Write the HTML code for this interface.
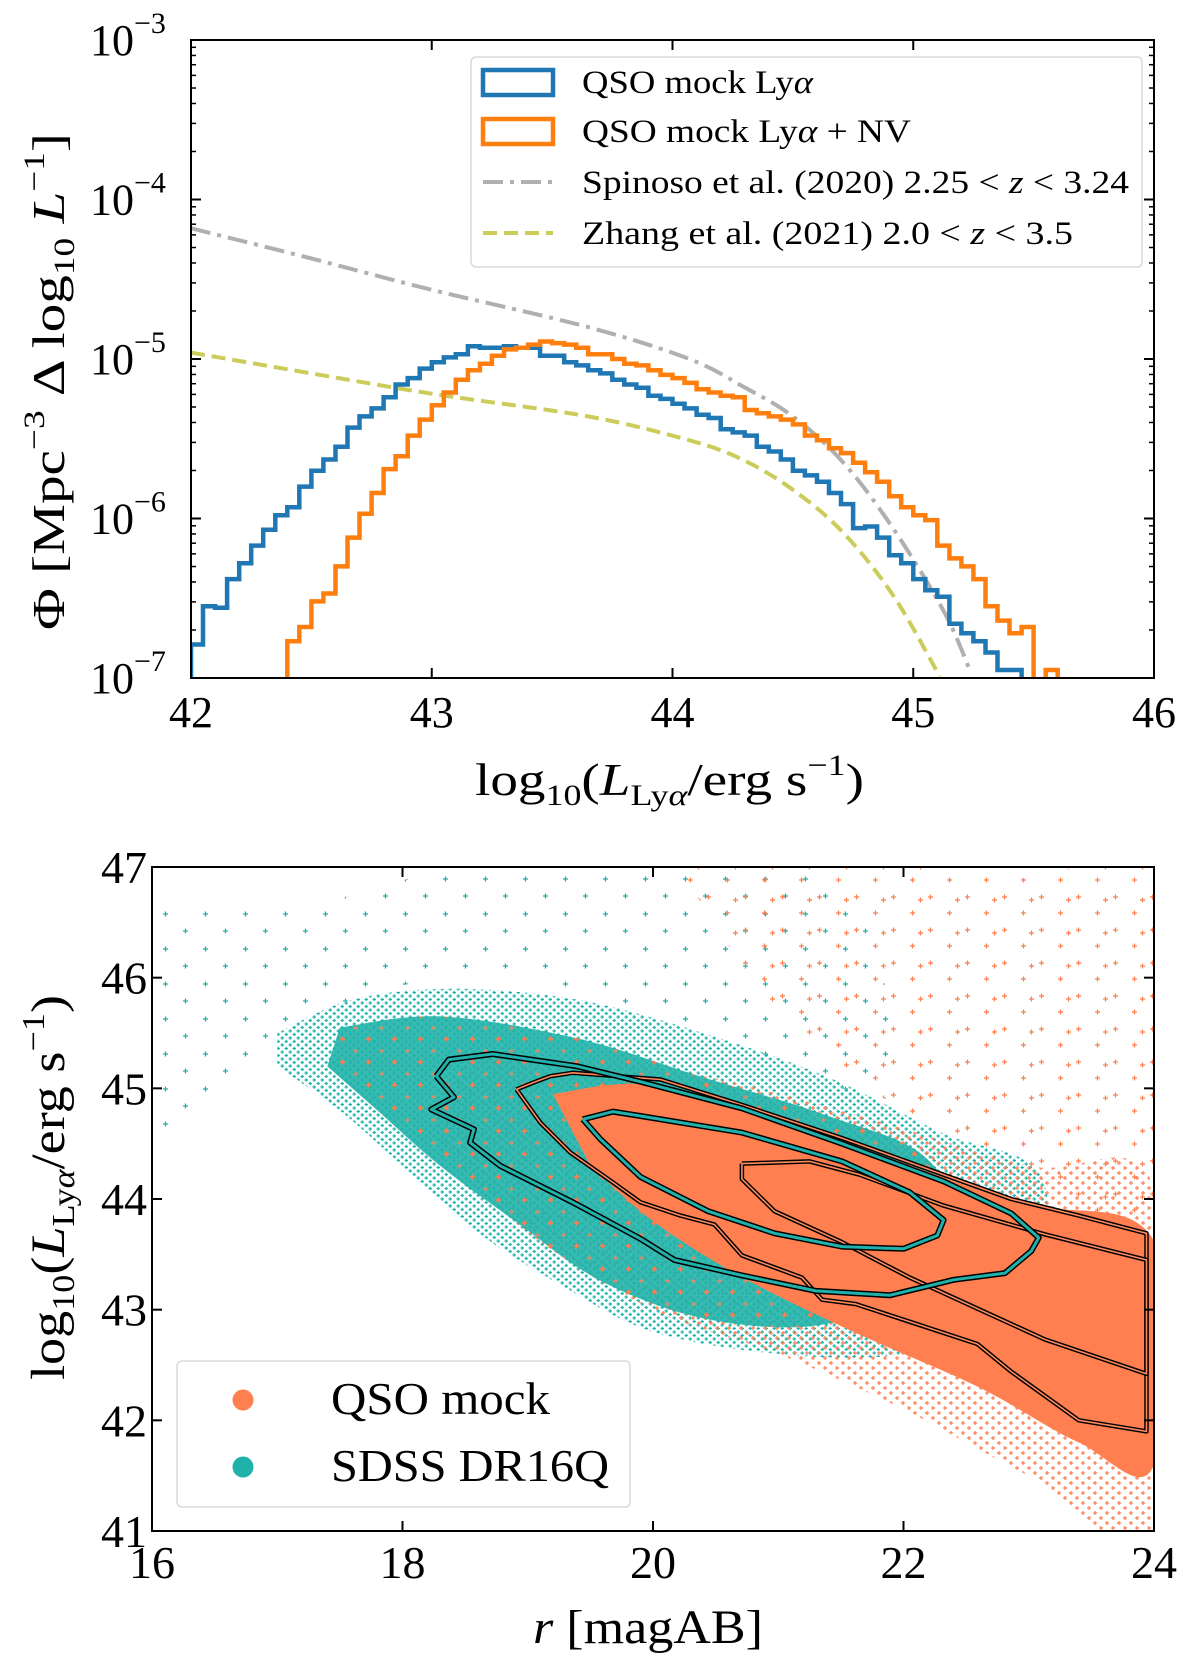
<!DOCTYPE html>
<html><head><meta charset="utf-8"><style>
html,body{margin:0;padding:0;background:#fff;}
svg{display:block;font-family:"Liberation Serif","DejaVu Serif",serif;}
</style></head><body>
<svg id="fig" width="1200" height="1677" viewBox="0 0 1200 1677" xmlns="http://www.w3.org/2000/svg">
<defs>
<pattern id="tealSpeck" width="8" height="7" patternUnits="userSpaceOnUse">
<path d="M0.5 2h3.5M2.2 0.3v3.5M4.5 5.5h3.5M6.2 3.8v3.2" stroke="#20b2aa" stroke-width="1.2"/>
</pattern>
<pattern id="orangeSpeck" width="12" height="10" patternUnits="userSpaceOnUse">
<path d="M1 3h4M3 1v4M7 8h4M9 6v4" stroke="#ff7f50" stroke-width="1.2"/>
</pattern>
<pattern id="orangeOnTeal" width="26" height="23" patternUnits="userSpaceOnUse">
<path d="M2 4h5M4.5 1.5v5M15 16h5M17.5 13.5v5" stroke="#ff7f50" stroke-width="1.4"/>
</pattern>
<pattern id="tealSparse" width="40" height="35" patternUnits="userSpaceOnUse">
<path d="M3 4h5M5.5 1.5v5M23 21h5M25.5 18.5v5" stroke="#20b2aa" stroke-width="1.3"/>
</pattern>
<pattern id="orangeSparse" width="37" height="33" patternUnits="userSpaceOnUse">
<path d="M3 6h5M5.5 3.5v5M22 22h5M24.5 19.5v5M30 9h5M32.5 6.5v5" stroke="#ff7f50" stroke-width="1.3"/>
</pattern>
<clipPath id="clipTop"><rect x="191" y="40" width="963" height="638"/></clipPath>
<clipPath id="clipBot"><rect x="152" y="867" width="1002" height="664"/></clipPath>
</defs>
<g id="top"></g>
<g id="bot"></g>
</svg>
<script>
// ---------- Top panel data ----------
const binWidth = 0.05;
const blueStart = 42.00;
const blueLogPhi = [-6.79,-6.55,-6.56,-6.38,-6.28,-6.17,-6.07,-5.98,-5.93,-5.80,-5.70,-5.63,-5.55,-5.43,-5.36,-5.31,-5.24,-5.16,-5.12,-5.06,-5.02,-4.99,-4.97,-4.92,-4.93,-4.93,-4.92,-4.93,-4.93,-4.98,-4.98,-5.02,-5.04,-5.07,-5.09,-5.13,-5.16,-5.18,-5.23,-5.25,-5.28,-5.31,-5.35,-5.37,-5.44,-5.46,-5.48,-5.55,-5.58,-5.63,-5.70,-5.73,-5.77,-5.84,-5.91,-6.06,-6.05,-6.12,-6.23,-6.28,-6.38,-6.45,-6.49,-6.66,-6.72,-6.77,-6.84,-6.95,-6.95];
const orangeStart = 42.40;
const orangeLogPhi = [-6.77,-6.68,-6.52,-6.47,-6.30,-6.12,-5.97,-5.84,-5.69,-5.61,-5.48,-5.38,-5.29,-5.21,-5.13,-5.07,-5.03,-4.98,-4.94,-4.93,-4.91,-4.89,-4.90,-4.91,-4.93,-4.97,-4.97,-5.00,-5.03,-5.04,-5.07,-5.10,-5.12,-5.15,-5.19,-5.21,-5.23,-5.24,-5.32,-5.34,-5.36,-5.38,-5.41,-5.48,-5.51,-5.56,-5.59,-5.65,-5.71,-5.77,-5.86,-5.93,-5.98,-6.01,-6.17,-6.25,-6.30,-6.38,-6.55,-6.64,-6.72,-6.68,-7.3,-6.95];
const spinosoL = [42.0,42.5,43.01,43.65,44.07,44.29,44.50,44.71,44.92,45.13,45.24];
const spinosoLog = [-4.18,-4.37,-4.57,-4.80,-5.00,-5.17,-5.36,-5.65,-6.07,-6.59,-6.97];
const zhangL = [42.0,42.5,43.01,43.65,44.07,44.29,44.50,44.71,44.92,45.11];
const zhangLog = [-4.96,-5.09,-5.22,-5.36,-5.51,-5.63,-5.82,-6.09,-6.49,-6.99];
const topXTicks = [42,43,44,45,46];
const topYDecades = [-3,-4,-5,-6,-7];

// ---------- Bottom panel data ----------
const botXTicks = [16,18,20,22,24];
const botYTicks = [41,42,43,44,45,46,47];
const sparseTealR = [16.0,17.0,18.5,20.0,21.5,21.8,20.0,18.5,17.2,16.3,16.0];
const sparseTealL = [46.8,46.6,47.0,47.0,46.9,45.0,45.7,46.0,45.6,44.6,44.8];
const sparseOrangeR = [20.2,22.0,23.0,24.0,24.0,23.0,22.0,21.0];
const sparseOrangeL = [47.0,47.0,46.9,46.9,43.8,44.3,44.8,45.6];
const tealHaloR = [17.0,17.6,18.4,19.4,20.4,21.4,22.3,23.1,23.0,22.0,21.0,20.0,19.3,18.6,18.0,17.5,17.0];
const tealHaloL = [45.5,45.8,45.9,45.8,45.5,45.1,44.6,44.2,43.0,42.6,42.6,42.8,43.2,43.7,44.3,44.8,45.2];
const tealCoreR = [17.5,18.3,19.4,20.4,21.4,22.2,22.5,21.5,20.5,19.6,18.9,18.3,17.8,17.4];
const tealCoreL = [45.55,45.65,45.45,45.1,44.75,44.35,43.5,42.9,42.9,43.25,43.8,44.3,44.8,45.2];
const orangeHaloR = [18.5,20.0,21.5,23.0,24.0,24.0,23.0,22.0,21.0,20.0,19.0,18.3];
const orangeHaloL = [45.3,45.2,44.8,44.3,44.1,41.0,41.5,42.1,42.6,43.0,43.7,44.5];
const orangeCoreR = [19.2,20.06,21.5,22.9,24.0,24.0,23.4,22.6,21.6,20.7,20.0,19.5];
const orangeCoreL = [44.95,45.02,44.52,43.97,43.62,41.6,41.8,42.3,42.8,43.3,43.8,44.3];
const sdssOuterR = [18.27,18.37,18.72,19.39,19.90,20.71,21.51,22.32,22.86,23.08,23.02,22.81,22.40,21.89,21.30,20.71,20.17,19.90,19.36,18.78,18.54,18.57,18.23,18.41,18.27];
const sdssOuterL = [45.11,45.26,45.31,45.20,45.06,44.82,44.50,44.16,43.87,43.65,43.53,43.33,43.27,43.13,43.17,43.31,43.45,43.64,43.97,44.30,44.51,44.63,44.81,44.92,45.11];
const sdssInnerR = [19.44,19.68,19.90,20.71,21.51,22.05,22.32,22.27,22.00,21.51,20.97,20.44,19.90,19.58,19.44];
const sdssInnerL = [44.72,44.79,44.75,44.60,44.34,44.06,43.81,43.67,43.55,43.57,43.69,43.89,44.20,44.54,44.72];
const mockOuterR = [18.91,19.04,19.18,19.36,20.06,20.71,21.51,22.32,22.86,23.40,23.94,23.94,23.40,22.86,22.59,22.05,21.62,21.35,21.19,20.71,20.49,20.22,19.90,19.68,19.34,19.10,18.91];
const mockOuterL = [44.99,45.05,45.11,45.14,45.08,44.85,44.55,44.22,44.00,43.85,43.69,41.90,42.00,42.44,42.69,42.89,43.05,43.09,43.29,43.49,43.77,43.85,43.97,44.15,44.42,44.69,44.99];
const mockInnerR = [20.71,21.25,21.65,22.32,23.13,23.94,23.94,23.13,22.59,22.05,21.51,20.97,20.71,20.71];
const mockInnerL = [44.32,44.34,44.22,43.94,43.68,43.45,42.42,42.73,43.01,43.29,43.61,43.89,44.18,44.32];

const NS = "http://www.w3.org/2000/svg";
function mk(parent, tag, attrs, text){
  const e = document.createElementNS(NS, tag);
  for (const k in attrs) e.setAttribute(k, attrs[k]);
  if (text !== undefined) e.textContent = text;
  parent.appendChild(e);
  return e;
}
function smoothPath(xs, ys){
  let d = 'M'+xs[0].toFixed(1)+','+ys[0].toFixed(1);
  for (let i=0;i<xs.length-1;i++){
    const x0=xs[Math.max(i-1,0)], y0=ys[Math.max(i-1,0)];
    const x1=xs[i], y1=ys[i], x2=xs[i+1], y2=ys[i+1];
    const x3=xs[Math.min(i+2,xs.length-1)], y3=ys[Math.min(i+2,ys.length-1)];
    d += ' C'+(x1+(x2-x0)/6).toFixed(1)+','+(y1+(y2-y0)/6).toFixed(1)+' '+(x2-(x3-x1)/6).toFixed(1)+','+(y2-(y3-y1)/6).toFixed(1)+' '+x2.toFixed(1)+','+y2.toFixed(1);
  }
  return d;
}

// ---------- Top panel ----------
const T = document.getElementById('top');
const tx0=191, tx1=1154, ty0=40, ty1=678;
const tX = v => tx0 + (v-42)/(46-42)*(tx1-tx0);
const tY = lg => ty0 + (-3-lg)/4*(ty1-ty0);
const plotT = mk(T,'g',{'clip-path':'url(#clipTop)'});



const sp = mk(plotT,'path',{d:smoothPath(spinosoL.map(tX), spinosoLog.map(tY)),fill:'none',stroke:'#b0b0b0','stroke-width':4,'stroke-dasharray':'20,7,4,7'});


const zh = mk(plotT,'path',{d:smoothPath(zhangL.map(tX), zhangLog.map(tY)),fill:'none',stroke:'#cbcc5a','stroke-width':4,'stroke-dasharray':'14,7'});



function stepPath(start, vals){
  let d = 'M'+tX(start).toFixed(1)+','+(ty1+10);
  vals.forEach((v,i)=>{
    const y = tY(v).toFixed(1);
    d += ' L'+tX(start+i*binWidth).toFixed(1)+','+y+' L'+tX(start+(i+1)*binWidth).toFixed(1)+','+y;
  });
  d += ' L'+tX(start+vals.length*binWidth).toFixed(1)+','+(ty1+10);
  return d;
}
const hb = mk(plotT,'path',{d:stepPath(blueStart, blueLogPhi),fill:'none',stroke:'#1f77b4','stroke-width':4.5});


const ho = mk(plotT,'path',{d:stepPath(orangeStart, orangeLogPhi),fill:'none',stroke:'#ff7f0e','stroke-width':4.5});



const fT = mk(T,'rect',{x:tx0,y:ty0,width:tx1-tx0,height:ty1-ty0,fill:'none',stroke:'#000','stroke-width':2});


topXTicks.forEach(v=>{
  const x=tX(v);
  mk(T,'line',{x1:x,y1:ty1,x2:x,y2:ty1-10,stroke:'#000','stroke-width':2});
  mk(T,'line',{x1:x,y1:ty0,x2:x,y2:ty0+10,stroke:'#000','stroke-width':2});
  const t = mk(T,'text',{x:x,y:727,'font-size':44,'text-anchor':'middle'},String(v));
  
  
});
topYDecades.forEach(d=>{
  const y=tY(d);
  mk(T,'line',{x1:tx0,y1:y,x2:tx0+10,y2:y,stroke:'#000','stroke-width':2});
  mk(T,'line',{x1:tx1,y1:y,x2:tx1-10,y2:y,stroke:'#000','stroke-width':2});
  if (d>-7){
    for (let m=2;m<10;m++){
      const ym = tY(d-1+Math.log10(m));
      mk(T,'line',{x1:tx0,y1:ym,x2:tx0+5,y2:ym,stroke:'#000','stroke-width':1.5});
      mk(T,'line',{x1:tx1,y1:ym,x2:tx1-5,y2:ym,stroke:'#000','stroke-width':1.5});
    }
  }
  const t = mk(T,'text',{x:90,y:y+15,'font-size':44},'10');
  mk(t,'tspan',{dy:-22,'font-size':30},'\u2212'+(-d));
  
  
});
const xlT = mk(T,'text',{x:475,y:795,'font-size':46,textLength:389,lengthAdjust:'spacingAndGlyphs'});
xlT.innerHTML = 'log<tspan font-size="30" dy="10">10</tspan><tspan dy="-10">(</tspan><tspan font-style="italic">L</tspan><tspan font-size="30" dy="10">Ly<tspan font-style="italic">α</tspan></tspan><tspan dy="-10">/erg s</tspan><tspan font-size="30" dy="-20">−1</tspan><tspan dy="20">)</tspan>';


const ylT = mk(T,'text',{x:0,y:0,'font-size':46,textLength:497,lengthAdjust:'spacingAndGlyphs',transform:'translate(64,630) rotate(-90)'});
ylT.innerHTML = 'Φ  [Mpc<tspan font-size="30" dy="-20">−3</tspan><tspan dy="20"> Δ log</tspan><tspan font-size="30" dy="10">10</tspan><tspan dy="-10" font-style="italic"> L</tspan><tspan font-size="30" dy="-20">−1</tspan><tspan dy="20">]</tspan>';



const LT = mk(T,'g',{});


mk(LT,'rect',{x:471,y:57,width:671,height:210,rx:5,fill:'#fff','fill-opacity':0.85,stroke:'#d9d9d9','stroke-width':1.5});
const legItems = [
  {type:'box',color:'#1f77b4',text:'QSO mock Ly<tspan font-style="italic">α</tspan>',y:82,w:231,name:'legend-entry-lya'},
  {type:'box',color:'#ff7f0e',text:'QSO mock Ly<tspan font-style="italic">α</tspan> + NV',y:131,w:329,name:'legend-entry-lya-nv'},
  {type:'dashdot',color:'#b0b0b0',text:'Spinoso et al. (2020) 2.25 &lt; <tspan font-style="italic">z</tspan> &lt; 3.24',y:182,w:547,name:'legend-entry-spinoso'},
  {type:'dash',color:'#cbcc5a',text:'Zhang et al. (2021) 2.0 &lt; <tspan font-style="italic">z</tspan> &lt; 3.5',y:233,w:491,name:'legend-entry-zhang'}
];
legItems.forEach(it=>{
  const g = mk(LT,'g',{});
  
  
  if (it.type==='box') mk(g,'rect',{x:483,y:it.y-12,width:70,height:25,fill:'none',stroke:it.color,'stroke-width':4.5});
  else mk(g,'line',{x1:483,y1:it.y,x2:553,y2:it.y,stroke:it.color,'stroke-width':4,'stroke-dasharray':it.type==='dash'?'14,7':'20,7,4,7'});
  const t = mk(g,'text',{x:582,y:it.y+11,'font-size':33,textLength:it.w,lengthAdjust:'spacingAndGlyphs'});
  t.innerHTML = it.text;
});

// ---------- Bottom panel ----------
const B = document.getElementById('bot');
const bx0=152, bx1=1154, by0=867, by1=1531;
const bX = r => bx0 + (r-16)/8*(bx1-bx0);
const bY = l => by0 + (47-l)/6*(by1-by0);
const plotB = mk(B,'g',{'clip-path':'url(#clipBot)'});


function poly(rs, ls){ return rs.map((r,i)=>bX(r).toFixed(1)+','+bY(ls[i]).toFixed(1)).join(' '); }
function smoothClosed(rs, ls){ return smoothPath(rs.map(bX), ls.map(bY)) + ' Z'; }
function region(rs, ls, fill, name, op){
  const e = mk(plotB,'path',{d:smoothClosed(rs,ls),fill:fill,'fill-opacity':op||1});
  
  
}
region(sparseTealR,sparseTealL,'url(#tealSparse)','sdss-outlier-points');
region(sparseOrangeR,sparseOrangeL,'url(#orangeSparse)','mock-outlier-points');
region(tealHaloR,tealHaloL,'url(#tealSpeck)','sdss-scatter-halo');
region(orangeHaloR,orangeHaloL,'url(#orangeSpeck)','mock-scatter-halo');
region(tealCoreR,tealCoreL,'#20b2aa','sdss-scatter-core',0.9);
region(tealCoreR,tealCoreL,'url(#orangeOnTeal)','mock-points-over-sdss-core');
region(orangeCoreR,orangeCoreL,'#ff7f50','mock-scatter-core');

function contour(rs, ls, name, inner){
  const g = mk(plotB,'g',{});
  
  
  const pts = poly(rs, ls);
  const teal = inner==='#20b2aa';
  mk(g,'polyline',{points:pts,fill:'none',stroke:'#000','stroke-width':teal?6:4.5,'stroke-linejoin':'round'});
  mk(g,'polyline',{points:pts,fill:'none',stroke:inner,'stroke-width':teal?3:1.6,'stroke-linejoin':'round'});
}
contour(mockOuterR, mockOuterL, 'mock-contour-outer', '#ff8a5c');
contour(mockInnerR, mockInnerL, 'mock-contour-inner', '#ff8a5c');
contour(sdssOuterR, sdssOuterL, 'sdss-contour-outer', '#20b2aa');
contour(sdssInnerR, sdssInnerL, 'sdss-contour-inner', '#20b2aa');

const fB = mk(B,'rect',{x:bx0,y:by0,width:bx1-bx0,height:by1-by0,fill:'none',stroke:'#000','stroke-width':2});


botXTicks.forEach(v=>{
  const x=bX(v);
  mk(B,'line',{x1:x,y1:by1,x2:x,y2:by1-10,stroke:'#000','stroke-width':2});
  mk(B,'line',{x1:x,y1:by0,x2:x,y2:by0+10,stroke:'#000','stroke-width':2});
  const t = mk(B,'text',{x:x,y:1578,'font-size':46,'text-anchor':'middle'},String(v));
  
  
});
botYTicks.forEach(v=>{
  const y=bY(v);
  mk(B,'line',{x1:bx0,y1:y,x2:bx0+10,y2:y,stroke:'#000','stroke-width':2});
  mk(B,'line',{x1:bx1,y1:y,x2:bx1-10,y2:y,stroke:'#000','stroke-width':2});
  const t = mk(B,'text',{x:147,y:y+16,'font-size':46,'text-anchor':'end'},String(v));
  
  
});
const xlB = mk(B,'text',{x:533,y:1643,'font-size':48,textLength:230,lengthAdjust:'spacingAndGlyphs'});
xlB.innerHTML = '<tspan font-style="italic">r</tspan>  [magAB]';


const ylB = mk(B,'text',{x:0,y:0,'font-size':48,textLength:385,lengthAdjust:'spacingAndGlyphs',transform:'translate(64,1380) rotate(-90)'});
ylB.innerHTML = 'log<tspan font-size="32" dy="10">10</tspan><tspan dy="-10">(</tspan><tspan font-style="italic">L</tspan><tspan font-size="32" dy="10">Ly<tspan font-style="italic">α</tspan></tspan><tspan dy="-10">/erg s</tspan><tspan font-size="32" dy="-20">−1</tspan><tspan dy="20">)</tspan>';



const LB = mk(B,'g',{});


mk(LB,'rect',{x:177,y:1361,width:453,height:146,rx:5,fill:'#fff','fill-opacity':0.85,stroke:'#d9d9d9','stroke-width':1.5});
const lb1 = mk(LB,'g',{});


mk(lb1,'circle',{cx:243,cy:1400,r:10.5,fill:'#ff7f50'});
mk(lb1,'text',{x:331,y:1414,'font-size':46,textLength:219,lengthAdjust:'spacingAndGlyphs'},'QSO mock');
const lb2 = mk(LB,'g',{});


mk(lb2,'circle',{cx:243,cy:1467,r:10.5,fill:'#20b2aa'});
mk(lb2,'text',{x:331,y:1481,'font-size':46,textLength:278,lengthAdjust:'spacingAndGlyphs'},'SDSS DR16Q');
</script>
</body></html>
